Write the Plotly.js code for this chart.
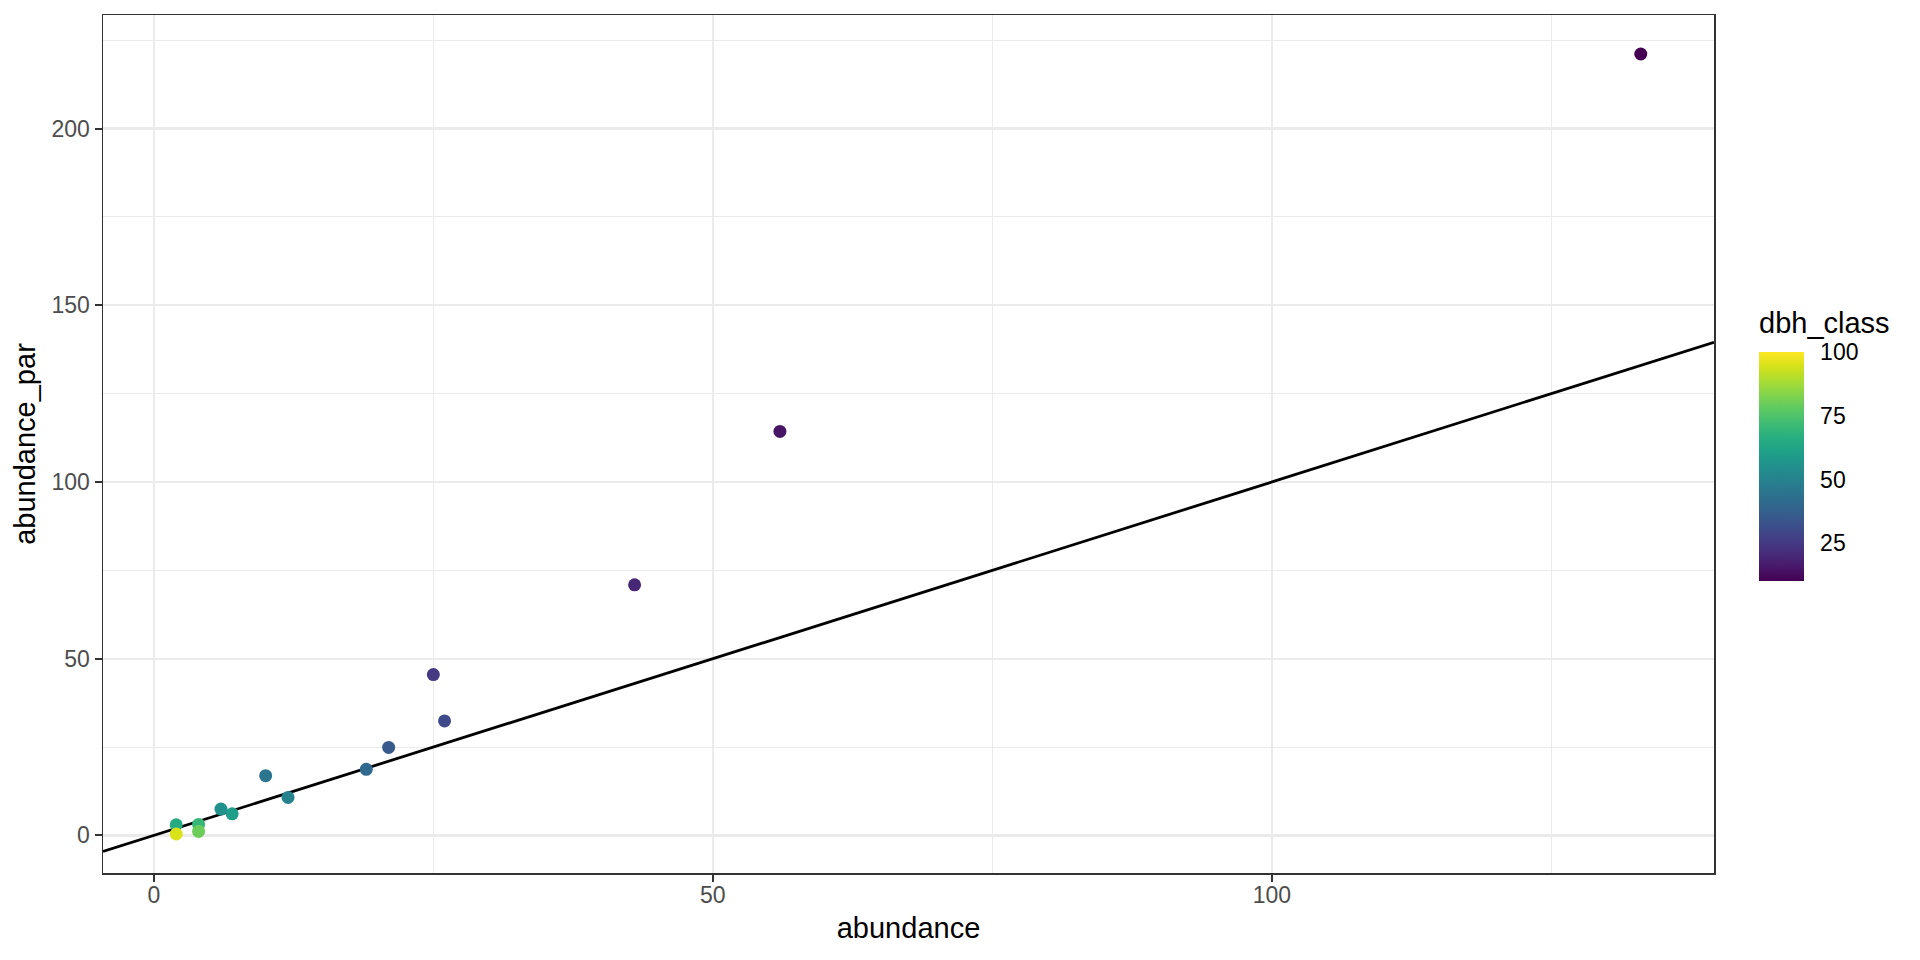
<!DOCTYPE html>
<html>
<head>
<meta charset="utf-8">
<script src="https://cdn.plot.ly/plotly-3.0.1.min.js"></script>
<style>html,body{margin:0;padding:0;background:#fff;}#chart{width:1920px;height:960px;}</style>
</head>
<body>
<div id="chart"></div>
<script>
// Data
const abundance     = [133, 56, 43, 25, 26, 21, 19, 10, 12, 6, 7, 2, 4, 4, 2];
const abundancePar  = [221.1, 114.3, 70.9, 45.5, 32.4, 24.9, 18.7, 16.9, 10.75, 7.45, 6.1, 3.0, 3.1, 1.13, 0.4];
const dbhClass      = [10, 15, 20, 25, 30, 35, 40, 45, 50, 55, 60, 65, 70, 80, 95];
const colorbarTicks = [25, 50, 75, 100];
const xTicks        = [0, 50, 100];
const yTicks        = [0, 50, 100, 150, 200];
// reference line y = intercept + slope * x
const ablineSlope = 1;
const ablineIntercept = 0;

function expand(arr, f) {
  const mn = Math.min(...arr), mx = Math.max(...arr);
  const pad = (mx - mn) * f;
  return [mn - pad, mx + pad];
}
const xRange = expand(abundance, 0.05);
const yRange = expand(abundancePar, 0.05);

const lineX = [xRange[0], xRange[1]];
const lineY = lineX.map(v => ablineIntercept + ablineSlope * v);

const tickFont = {family: 'Liberation Sans, Arial, sans-serif', size: 23, color: '#4d4d4d'};
const titleFont = {family: 'Liberation Sans, Arial, sans-serif', size: 29, color: '#000000'};

const traces = [
  {
    x: lineX, y: lineY, type: 'scatter', mode: 'lines',
    line: {color: '#000000', width: 2.8},
    showlegend: false, hoverinfo: 'skip'
  },
  {
    x: abundance, y: abundancePar, type: 'scatter', mode: 'markers',
    marker: {
      size: 13, color: dbhClass, colorscale: 'Viridis', cmin: 10, cmax: 100,
      line: {width: 0},
      colorbar: {
        tickvals: colorbarTicks, ticktext: colorbarTicks.map(String),
        tickfont: {family: 'Liberation Sans, Arial, sans-serif', size: 23, color: '#000000'},
        ticks: 'outside', tickcolor: 'rgba(0,0,0,0)', ticklen: 12, tickwidth: 1,
        thickness: 45, thicknessmode: 'pixels',
        len: 229, lenmode: 'pixels',
        x: 1.0279, xanchor: 'left', xpad: 0,
        y: 0.340, yanchor: 'bottom', ypad: 0,
        outlinewidth: 0, bgcolor: 'rgba(0,0,0,0)'
      }
    },
    showlegend: false, hoverinfo: 'x+y'
  }
];

const axisCommon = {
  showgrid: true, gridcolor: '#ebebeb', gridwidth: 2.2,
  zeroline: false,
  showline: true, linecolor: '#333333', linewidth: 1.5, mirror: true,
  ticks: 'outside', ticklen: 7, tickwidth: 2, tickcolor: '#333333',
  tickfont: tickFont, automargin: false
};

const layout = {
  width: 1920, height: 960,
  margin: {l: 103, r: 206, t: 15, b: 87},
  paper_bgcolor: '#ffffff', plot_bgcolor: '#ffffff',
  xaxis: Object.assign({}, axisCommon, {
    range: xRange, tickvals: xTicks, ticktext: xTicks.map(String),
    ticklabelstandoff: -6,
    minor: {showgrid: true, gridcolor: '#ebebeb', gridwidth: 1.1, ticks: '', tickvals: [25, 75, 125]},
    title: {text: 'abundance', font: titleFont, standoff: 10}
  }),
  yaxis: Object.assign({}, axisCommon, {
    range: yRange, tickvals: yTicks, ticktext: yTicks.map(String),
    minor: {showgrid: true, gridcolor: '#ebebeb', gridwidth: 1.1, ticks: '', tickvals: [25, 75, 125, 175, 225]},
    title: {text: 'abundance_par', font: titleFont, standoff: 7}
  }),
  annotations: [{
    text: 'dbh_class', xref: 'paper', yref: 'paper',
    x: 1.0279, xanchor: 'left', y: 0.641, yanchor: 'middle',
    showarrow: false, font: titleFont, xshift: -2
  }]
};

Plotly.newPlot('chart', traces, layout, {displayModeBar: false, staticPlot: true});
</script>
</body>
</html>
